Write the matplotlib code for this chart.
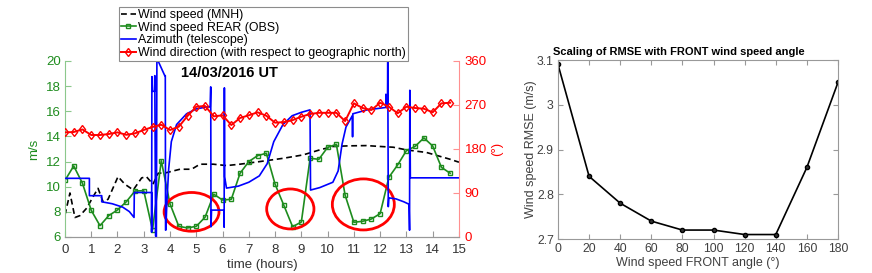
import numpy as np
import matplotlib
matplotlib.use("Agg")
import matplotlib.pyplot as plt
from matplotlib.patches import Ellipse
from matplotlib.ticker import FuncFormatter

plt.rcParams['font.family'] = ['Liberation Sans', 'DejaVu Sans']

# %% data
# observed wind speed REAR, every 20 min
t_obs = np.arange(45) / 3.0
ws_rear = [10.5, 11.65, 10.27, 8.12, 6.9, 7.7, 8.15, 8.8, 9.66, 9.68,
           6.56, 12.07, 8.63, 6.85, 6.72, 6.85, 7.57, 9.4, 8.94, 9.0,
           11.07, 12.0, 12.47, 12.66, 10.2, 8.52, 6.82, 7.19, 12.26, 12.18,
           13.13, 13.37, 9.32, 7.17, 7.25, 7.43, 7.86, 10.75, 11.73, 12.87,
           13.21, 13.88, 13.24, 11.54, 11.07]
wind_dir = [214, 214.7, 220, 208.6, 208.6, 210.6, 214, 209, 212, 218.8,
            225, 229.7, 218.8, 225.6, 247.5, 266.5, 268, 246.8, 248.9, 229,
            243.4, 248.9, 255, 248, 233.8, 235, 239, 246, 251.6, 254,
            254, 254, 237, 273.4, 263.8, 259.7, 274.6, 266.5, 253, 266.5,
            263.8, 262.4, 255, 273.4, 274.6]

# model wind speed (MNH)
t_mnh = [0, 0.19, 0.38, 0.57, 0.83, 1.07, 1.26, 1.45, 1.64, 2.02, 2.28,
         2.6, 2.92, 3.1, 3.35, 3.55, 3.87, 4.38, 4.82, 5.14, 5.65, 6.15,
         6.66, 7.42, 8.31, 9.07, 9.7, 10.21, 10.8, 11.48, 12.0, 12.5, 13.0,
         13.77, 14.65, 15.0]
ws_mnh = [7.75, 9.5, 7.55, 7.7, 8.3, 9.2, 9.87, 8.8, 9.0, 10.8, 10.2,
          9.74, 10.7, 10.8, 10.2, 11.07, 11.12, 11.39, 11.39, 11.79, 11.79,
          11.68, 11.79, 12.0, 12.26, 12.53, 12.93, 13.2, 13.25, 13.27, 13.2,
          13.14, 12.93, 12.72, 12.19, 11.95]

# telescope azimuth (deg)
t_az = [0, 0.93, 0.93, 1.40, 1.40, 1.8, 2.2, 2.45, 2.63, 2.64, 3.30, 3.30,
        3.31, 3.33, 3.41, 3.42, 3.45, 3.48, 3.50, 3.53, 3.80, 3.82, 3.83,
        3.84, 3.88, 3.95, 4.05, 4.25, 4.63, 5.0, 5.4, 5.53, 5.55, 5.56,
        5.58, 6.05, 6.06, 6.07, 6.08, 6.15, 6.6, 7.0, 7.4, 7.7, 7.95, 8.3,
        8.65, 9.0, 9.33, 9.35, 9.7, 10.2, 10.4, 10.55, 10.7, 10.94, 10.95,
        10.96, 11.5, 12.22, 12.22, 12.24, 12.28, 12.29, 12.31, 12.33, 12.6,
        12.9, 13.1, 13.12, 13.13, 13.15, 15.0]
azimuth = [120, 120, 84.5, 84.5, 72, 68, 61, 52, 40, 91, 91, 10,
           328, 298, 298, 330, 2, 0, 358, 362, 330, 330, 14,
           14, 70, 140, 195, 230, 252, 262, 266, 266, 307, 21,
           55, 55, 20, 305, 123, 100, 104, 112, 125, 150, 195, 230,
           248, 255, 260, 96, 101, 112, 135, 190, 225, 248, 205,
           252, 260, 265, 292, 268, 268, 365, 62, 80, 78,
           72, 67, 14, 300, 121, 121]

# highlighted low wind periods: (centre hour, centre m/s, width h, height m/s)
circles = [(4.82, 8.0, 2.09, 3.08), (8.58, 8.23, 1.8, 3.18), (11.36, 8.59, 2.36, 4.06)]

# RMSE vs FRONT angle
angle = [0, 20, 40, 60, 80, 100, 120, 140, 160, 180]
rmse = [3.09, 2.84, 2.78, 2.74, 2.72, 2.72, 2.71, 2.71, 2.86, 3.05]

# %% left panel
green = '#1e8c1e'
fig = plt.figure(figsize=(8.72, 2.73), dpi=100)
ax1 = fig.add_axes([0.0745, 0.1319, 0.4518, 0.6447])
ax2 = ax1.twinx()

l1, = ax1.plot(t_mnh, ws_mnh, color='k', ls=(0, (3.5, 2.2)), lw=1.2)
l2, = ax1.plot(t_obs, ws_rear, color=green, lw=1.2, marker='s', ms=3.5,
               mfc='none', mec=green, mew=1.0)
l3, = ax2.plot(t_az, azimuth, color='#0000ff', lw=1.2)
l4, = ax2.plot(t_obs, wind_dir, color='#ff0000', lw=1.4, marker='d', ms=4.5,
               mfc='none', mec='#ff0000', mew=1.0)

for cx, cy, w, h in circles:
    ax2.add_patch(Ellipse((cx, cy), w, h, transform=ax1.transData,
                          fill=False, ec='#ff0000', lw=2.0))

ax1.set_xlim(0, 15)
ax1.set_ylim(6, 20)
ax2.set_ylim(0, 360)
ax1.set_xticks(range(16))
ax1.set_yticks(range(6, 21, 2))
ax2.set_yticks([0, 90, 180, 270, 360])

for a in (ax1, ax2):
    a.spines['top'].set_visible(False)
    a.spines['bottom'].set_color('0.6')
ax1.spines['left'].set_color('#8cc88c')
ax2.spines['right'].set_color('#ff9090')
ax1.spines['right'].set_visible(False)
ax2.spines['left'].set_visible(False)

ax1.tick_params(axis='x', direction='in', length=4, color='0.6', labelcolor='0.2', labelsize=9.5, pad=5)
ax1.tick_params(axis='y', direction='in', length=4, color='#8cc88c', labelcolor=green, labelsize=9.5, pad=3)
ax2.tick_params(axis='y', direction='in', length=4, color='#ff9090', labelcolor='#ff0000', labelsize=9.5, pad=4)

ax1.set_xlabel('time (hours)', fontsize=9.5, color='0.2', labelpad=2)
ax1.set_ylabel('m/s', fontsize=9.5, color=green, labelpad=4)
ax2.set_ylabel('(°)', fontsize=9.5, color='#ff0000', labelpad=3)
ax1.text(6.26, 19.05, '14/03/2016 UT', fontsize=10.5, fontweight='bold',
         ha='center', va='center')

leg = fig.legend([l1, l2, l3, l4],
                 ['Wind speed (MNH)', 'Wind speed REAR (OBS)', 'Azimuth (telescope)',
                  'Wind direction (with respect to geographic north)'],
                 loc='lower left', bbox_to_anchor=(119 / 872, 212 / 273),
                 fontsize=8.9, handlelength=1.2, handletextpad=0.2,
                 borderpad=0.15, labelspacing=0.06, borderaxespad=0,
                 fancybox=False, framealpha=1)
leg.get_frame().set_edgecolor('0.55')
leg.get_frame().set_linewidth(0.8)

# %% right panel
ax3 = fig.add_axes([0.6399, 0.1245, 0.3211, 0.6557])
ax3.plot(angle, rmse, color='k', lw=1.2, marker='o', ms=3, mfc='0.2', mec='k')
ax3.set_xlim(0, 180)
ax3.set_ylim(2.7, 3.1)
ax3.set_xticks(range(0, 181, 20))
ax3.set_yticks([2.7, 2.8, 2.9, 3.0, 3.1])
ax3.yaxis.set_major_formatter(FuncFormatter(lambda v, p: '%g' % round(v, 2)))
for s in ax3.spines.values():
    s.set_color('0.6')
ax3.tick_params(direction='in', length=3.5, color='0.6', labelcolor='0.25',
                labelsize=8.8, top=True, right=True, pad=3)
ax3.set_xlabel('Wind speed FRONT angle (°)', fontsize=9, color='0.25', labelpad=1)
ax3.set_ylabel('Wind speed RMSE (m/s)', fontsize=9, color='0.25', labelpad=0)
ax3.text(0.43, 1.015, 'Scaling of RMSE with FRONT wind speed angle', transform=ax3.transAxes,
         fontsize=8, fontweight='bold', ha='center', va='bottom')

fig.savefig('out.png', dpi=100)
